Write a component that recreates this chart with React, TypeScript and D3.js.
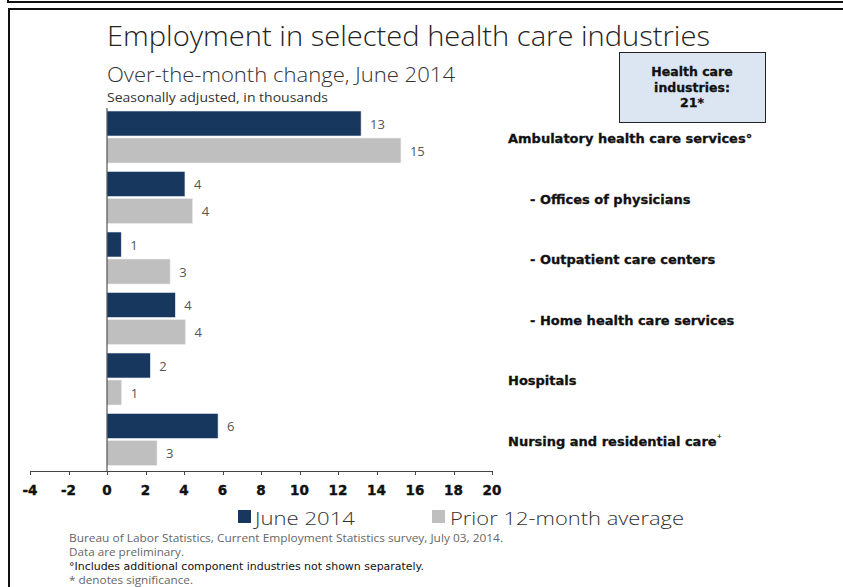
import React from "react";
import * as d3 from "d3";

const categories = [
  "Ambulatory health care services°",
  "- Offices of physicians",
  "- Outpatient care centers",
  "- Home health care services",
  "Hospitals",
  "Nursing and residential care",
];
const june2014 = [13.2, 4.05, 0.74, 3.55, 2.25, 5.77];
const prior12 = [15.27, 4.45, 3.28, 4.08, 0.76, 2.6];
const xTicks = [-4, -2, 0, 2, 4, 6, 8, 10, 12, 14, 16, 18, 20];
const seriesNames = ["June 2014", "Prior 12-month average"];
const footnotes = [
  "Bureau of Labor Statistics, Current Employment Statistics survey, July 03, 2014.",
  "Data are preliminary.",
  "°Includes additional component industries not shown separately.",
  "* denotes significance.",
];
const footnoteWidths = [434, 115, 355, 124];

const W = 843;
const H = 587;
const DARK = "#17375e";
const GRAY = "#bfbfbf";

export default function App() {
  const x = d3.scaleLinear().domain([-4, 20]).range([30, 492]);
  const y = d3.scaleBand<number>().domain(d3.range(categories.length)).range([108, 471]).padding(0);
  const bw = y.bandwidth();
  const barH = 25;
  const off = 3;
  const lab = "DejaVu Sans, Verdana, sans-serif";
  const thin = "'Open Sans', 'Noto Sans', sans-serif";

  return (
    <svg width={W} height={H} style={{ position: "absolute", left: 0, top: 0, background: "#fff" }}>
      {/* frames */}
      <rect x={8} y={-10} width={850} height={12} fill="none" stroke="#111" strokeWidth={2} />
      <rect x={9} y={9} width={850} height={600} fill="none" stroke="#111" strokeWidth={2} />

      <text x={107} y={46} fontFamily={thin} fontWeight={300} fontSize={27} fill="#222" textLength={603} lengthAdjust="spacingAndGlyphs">
        Employment in selected health care industries
      </text>
      <text x={107} y={82} fontFamily={thin} fontWeight={300} fontSize={20} fill="#333" textLength={348} lengthAdjust="spacingAndGlyphs">
        Over-the-month change, June 2014
      </text>
      <text x={107} y={102} fontFamily={thin} fontSize={13} fill="#333" textLength={221} lengthAdjust="spacingAndGlyphs">
        Seasonally adjusted, in thousands
      </text>

      {/* box */}
      <rect x={619.5} y={52.5} width={146} height={70} fill="#dce6f2" stroke="#222" strokeWidth={1} />
      {["Health care", "industries:", "21*"].map((t, i) => (
        <text key={t} x={692} y={76 + i * 15.5} textAnchor="middle" fontFamily={lab} fontWeight="bold" fontSize={12.5} fill="#111" stroke="#111" strokeWidth={0.3}>
          {t}
        </text>
      ))}

      {/* bars */}
      {categories.map((c, i) => {
        const y0 = (y(i) as number) + off;
        return (
          <g key={c}>
            <rect x={x(0)} y={y0} width={x(june2014[i]) - x(0)} height={barH} fill={DARK} stroke="#e8edf3" strokeWidth={0.6} />
            <rect x={x(0)} y={y0 + barH + 2} width={x(prior12[i]) - x(0)} height={barH} fill={GRAY} stroke="#eee" strokeWidth={0.6} />
            <text x={x(june2014[i]) + 9} y={y0 + barH / 2 + 5} fontFamily={thin} fontSize={13} fill="#555">
              {d3.format(".0f")(june2014[i])}
            </text>
            <text x={x(prior12[i]) + 9} y={y0 + barH * 1.5 + 7} fontFamily={thin} fontSize={13} fill="#555">
              {d3.format(".0f")(prior12[i])}
            </text>
            <text
              x={c.startsWith("-") ? 530 : 508}
              y={(y(i) as number) + bw / 2 + 5}
              fontFamily={lab}
              fontWeight="bold"
              fontSize={13}
              fill="#111"
              stroke="#111"
              strokeWidth={0.3}
            >
              {c}
              {i === 5 ? <tspan fontSize={10} dy={-4} strokeWidth={0}>⁺</tspan> : null}
            </text>
          </g>
        );
      })}

      {/* axes */}
      <line x1={x(0)} x2={x(0)} y1={108} y2={471} stroke="#333" strokeWidth={1} />
      <line x1={x(-4)} x2={x(20)} y1={471.5} y2={471.5} stroke="#444" strokeWidth={1} />
      {xTicks.map((t) => (
        <g key={t}>
          <line x1={Math.round(x(t)) + 0.5} x2={Math.round(x(t)) + 0.5} y1={471} y2={475} stroke="#444" />
          <text x={x(t)} y={495} textAnchor="middle" fontFamily={lab} fontWeight="bold" fontSize={13.5} fill="#111" stroke="#111" strokeWidth={0.4}>
            {t}
          </text>
        </g>
      ))}

      {/* legend */}
      <rect x={238} y={510} width={13} height={13} fill={DARK} />
      <text x={255} y={524.5} fontFamily={thin} fontWeight={300} fontSize={19} fill="#333" textLength={100} lengthAdjust="spacingAndGlyphs">
        {seriesNames[0]}
      </text>
      <rect x={432} y={510} width={13} height={13} fill={GRAY} />
      <text x={450} y={524.5} fontFamily={thin} fontWeight={300} fontSize={19} fill="#333" textLength={234} lengthAdjust="spacingAndGlyphs">
        {seriesNames[1]}
      </text>

      {/* footnotes */}
      {footnotes.map((f, i) => (
        <text
          key={f}
          x={69}
          y={542 + i * 14}
          fontFamily={i === 2 ? lab : thin}
          fontSize={10}
          fill={i === 2 ? "#111" : "#666"}
          textLength={footnoteWidths[i]}
          lengthAdjust="spacingAndGlyphs"
        >
          {f}
        </text>
      ))}
    </svg>
  );
}
